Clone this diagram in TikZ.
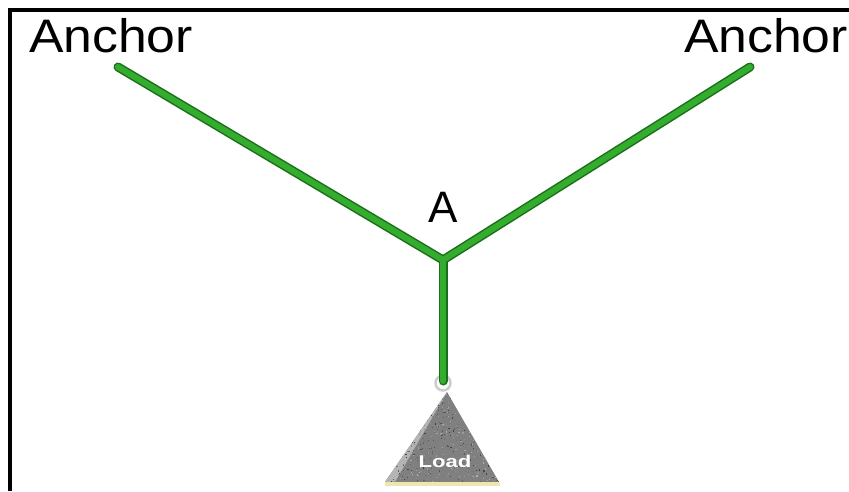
\documentclass[tikz,border=0pt]{standalone}
\usepackage{fontspec}
\setmainfont{Liberation Sans}

\definecolor{ropegreen}{RGB}{52,172,46}
\definecolor{ropedark}{RGB}{26,112,26}
\definecolor{loadgray}{RGB}{128,128,128}
\definecolor{loadlight}{RGB}{180,180,180}
\definecolor{baseyellow}{RGB}{236,230,175}

\tikzset{
  rope/.style={line width=9pt,color=ropedark,line cap=round,line join=round},
  ropecore/.style={line width=6pt,color=ropegreen,line cap=round,line join=round},
  lbl/.style={font=\fontsize{47}{50}\selectfont,inner sep=0pt,anchor=base,xscale=1.1},
}

\begin{document}
\begin{tikzpicture}[x=1pt,y=-1pt]
\useasboundingbox (0,0) rectangle (849,491);
% frame, left and top only
\draw[line width=4pt] (10,491) -- (10,10) -- (849,10);

% points of the ropes
\coordinate (lanchor) at (118,67);
\coordinate (ranchor) at (750,67);
\coordinate (knot) at (443,260);
\coordinate (hook) at (443,381);

% labels
\node[lbl] (ltext) at (111,52) {Anchor};
\node[lbl] (rtext) at (766,52) {Anchor};
\node[font=\fontsize{44}{46}\selectfont,inner sep=0pt,anchor=base] (alabel) at (443,222) {A};

% the load
\fill[loadgray] (447,392) -- (499,482) -- (385,482) -- cycle;
\fill[loadlight] (447,392) -- (395,482) -- (385,482) -- cycle;
\begin{scope}
  \clip (447,392) -- (499,482) -- (385,482) -- cycle;
  \pgfmathsetseed{11}
  \foreach \i in {1,...,700}{
    \pgfmathsetmacro{\px}{385+114*rnd}
    \pgfmathsetmacro{\py}{392+90*rnd}
    \pgfmathsetmacro{\shade}{30+45*rnd}
    \fill[black!\shade] (\px,\py) rectangle ++(1.2,1.2);
  }
\end{scope}
\fill[baseyellow] (385,482) rectangle (500,486);
\node[font=\bfseries\fontsize{17}{18}\selectfont,text=white,xscale=1.3,inner sep=0pt,anchor=base] (loadtext) at (445,467) {Load};

% ring the load hangs from
\draw[line width=2.5pt,color=gray!40,fill=white] (443,383) circle (7.5);

% ropes
\draw[rope] (lanchor) -- (knot) -- (ranchor);
\draw[rope] (knot) -- (hook);
\draw[ropecore] (lanchor) -- (knot) -- (ranchor);
\draw[ropecore] (knot) -- (hook);
\end{tikzpicture}
\end{document}
